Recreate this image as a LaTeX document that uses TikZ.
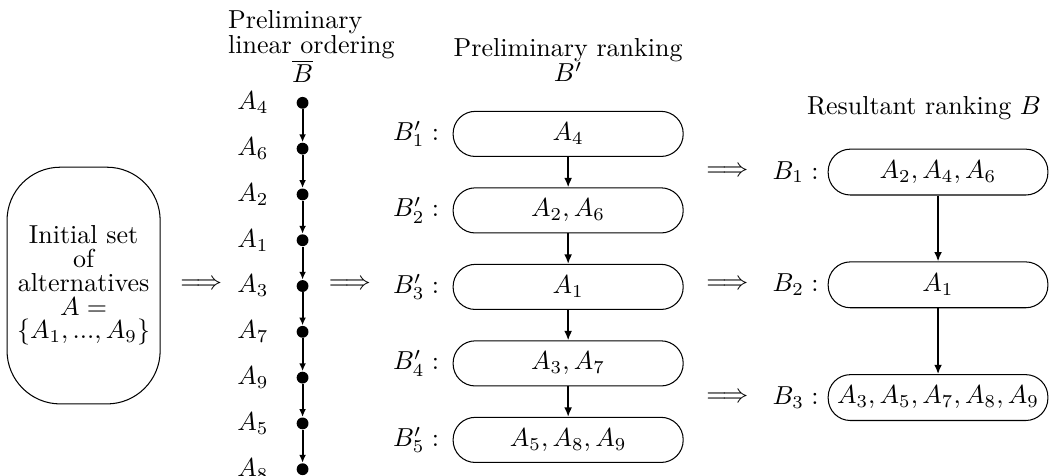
\documentclass[tikz,border=0pt]{standalone}
\usepackage{amsmath,amssymb}
\usetikzlibrary{arrows.meta, positioning}

\begin{document}
\begin{tikzpicture}[
    startbox/.style={rectangle, draw, rounded corners=0.72cm, minimum width=2.07cm, minimum height=3.2cm, align=center, inner sep=0pt, font=\linespread{0.76}\selectfont},
    rankbox/.style={rectangle, draw, rounded corners=0.3cm, minimum width=3.11cm, minimum height=0.61cm},
    resbox/.style={rankbox, minimum width=2.97cm, minimum height=0.62cm},
    bead/.style={circle, fill=black, inner sep=0pt, minimum size=0.16cm},
    heading/.style={align=center, font=\linespread{0.8}\selectfont},
    arrow/.style={-{Latex[length=3.6pt,width=3pt]}, semithick},
    chainarrow/.style={-{Latex[length=3pt,width=2.6pt]}, thick}
]
\useasboundingbox (0,0) rectangle (14.18,-6.43);

% Initial set
\node (init) [startbox] at (1.13,-3.86) {Initial set\\of\\alternatives\\$A=$\\$\{A_1,...,A_9\}$};
\node (imp1) at (2.72,-3.85) {$\Longrightarrow$};

% Preliminary linear ordering
\node (d1) [bead] at (4.09,-1.39) {};
\node (d2) [bead, below=0.445cm of d1] {};
\node (d3) [bead, below=0.445cm of d2] {};
\node (d4) [bead, below=0.445cm of d3] {};
\node (d5) [bead, below=0.445cm of d4] {};
\node (d6) [bead, below=0.445cm of d5] {};
\node (d7) [bead, below=0.445cm of d6] {};
\node (d8) [bead, below=0.445cm of d7] {};
\node (d9) [bead, below=0.445cm of d8] {};

\node (la4) [left=0.25cm of d1] {$A_4$};
\node (la6) [left=0.25cm of d2] {$A_6$};
\node (la2) [left=0.25cm of d3] {$A_2$};
\node (la1) [left=0.25cm of d4] {$A_1$};
\node (la3) [left=0.25cm of d5] {$A_3$};
\node (la7) [left=0.25cm of d6] {$A_7$};
\node (la9) [left=0.25cm of d7] {$A_9$};
\node (la5) [left=0.25cm of d8] {$A_5$};
\node (la8) [left=0.25cm of d9] {$A_8$};

\node (bbar) [above=0.06cm of d1] {$\overline{B}$};
\node (ordtitle) [heading, align=left, anchor=south west] at (2.96,-0.92) {Preliminary\\linear ordering};

\node (imp2) at (4.73,-3.85) {$\Longrightarrow$};

% Preliminary ranking
\node (bp1) [rankbox] at (7.68,-1.81) {$A_4$};
\node (bp2) [rankbox, below=0.41cm of bp1] {$A_2, A_6$};
\node (bp3) [rankbox, below=0.41cm of bp2] {$A_1$};
\node (bp4) [rankbox, below=0.41cm of bp3] {$A_3, A_7$};
\node (bp5) [rankbox, below=0.41cm of bp4] {$A_5, A_8, A_9$};

\node (lp1) [left=0.06cm of bp1] {$B'_1:$};
\node (lp2) [left=0.06cm of bp2] {$B'_2:$};
\node (lp3) [left=0.06cm of bp3] {$B'_3:$};
\node (lp4) [left=0.06cm of bp4] {$B'_4:$};
\node (lp5) [left=0.06cm of bp5] {$B'_5:$};

\node (pretitle) [heading, above=0.27cm of bp1] {Preliminary ranking\\$B'$};

% Resultant ranking
\node (r2) [resbox] at (12.68,-3.85) {$A_1$};
\node (r1) [resbox, above=0.89cm of r2] {$A_2, A_4, A_6$};
\node (r3) [resbox, below=0.89cm of r2] {$A_3, A_5, A_7, A_8, A_9$};

\node (lr1) [left=0cm of r1] {$B_1:$};
\node (lr2) [left=0cm of r2] {$B_2:$};
\node (lr3) [left=0cm of r3] {$B_3:$};

\node (impr1) [left=0.08cm of lr1] {$\Longrightarrow$};
\node (impr2) [left=0.08cm of lr2] {$\Longrightarrow$};
\node (impr3) [left=0.08cm of lr3] {$\Longrightarrow$};

\node (restitle) [anchor=base] at (12.49,-1.55) {Resultant ranking $B$};

% Arrows
\draw [chainarrow] (d1) -- (d2);
\draw [chainarrow] (d2) -- (d3);
\draw [chainarrow] (d3) -- (d4);
\draw [chainarrow] (d4) -- (d5);
\draw [chainarrow] (d5) -- (d6);
\draw [chainarrow] (d6) -- (d7);
\draw [chainarrow] (d7) -- (d8);
\draw [chainarrow] (d8) -- (d9);

\draw [arrow] (bp1) -- (bp2);
\draw [arrow] (bp2) -- (bp3);
\draw [arrow] (bp3) -- (bp4);
\draw [arrow] (bp4) -- (bp5);

\draw [arrow] (r1) -- (r2);
\draw [arrow] (r2) -- (r3);

\end{tikzpicture}
\end{document}
